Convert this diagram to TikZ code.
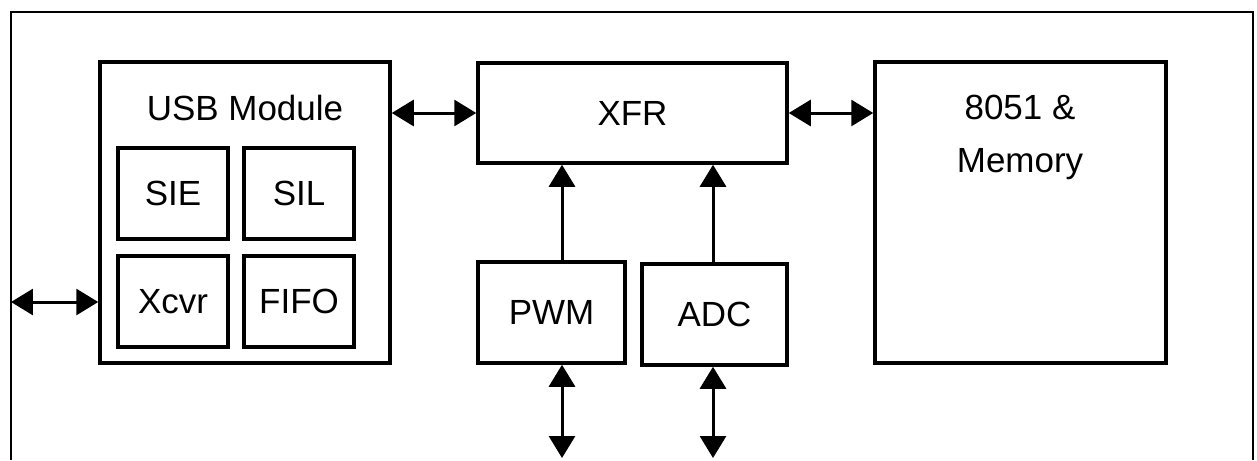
\documentclass[tikz,border=0pt]{standalone}
\usepackage{fontspec}
\setmainfont{Liberation Sans}
\usepackage{tikz}
\usetikzlibrary{arrows.meta}

\begin{document}
\begin{tikzpicture}[x=0.02cm, y=-0.02cm,
        every node/.style={font=\fontsize{19.9}{30}\selectfont},
        box/.style 2 args={draw, line width=0.07cm, inner sep=0pt,
            minimum width=#1*0.02cm, minimum height=#2*0.02cm},
        bus/.style={line width=0.06cm,
            {Triangle[length=0.44cm,width=0.52cm]}-{Triangle[length=0.44cm,width=0.52cm]}},
        feed/.style={line width=0.06cm, -{Triangle[length=0.44cm,width=0.52cm]}}]
        \useasboundingbox (0,0) rectangle (1257,460);
        \draw[line width=0.05cm] (11,460) -- (11,12) -- (1253,12) -- (1253,460);
        
        \node[box={290}{301}] (usb) at (245,212.5) {};
        \node (usblbl) at (245,108) {USB Module};
        \foreach \name/\txt/\x/\y in {sie/SIE/173/193.5, sil/SIL/299/193.5,
                xcvr/Xcvr/173/301.5, fifo/FIFO/299/301.5}
            \node[box={110}{91}] (\name) at (\x,\y) {\txt};
        
        \node[box={309}{100}] (xfr) at (632.5,113) {XFR};
        \node[box={147}{101}] (pwm) at (551.5,312.5) {PWM};
        \node[box={145}{101}] (adc) at (714.5,314.5) {ADC};
        
        \node[box={291}{301}] (cpu) at (1020.5,212.5) {};
        \node[align=center, inner sep=0pt, anchor=north] (cpulbl) at (1020,95) {8051 \&\\Memory};
        
        \coordinate (ext) at (11,302);
        \coordinate (pwmout) at (562,458);
        \coordinate (adcout) at (713,458);
        
        \draw[bus] (ext) -- (ext -| usb.west);
        \draw[bus] (xfr.west -| usb.east) -- (xfr.west);
        \draw[bus] (xfr.east) -- (xfr.east -| cpu.west);
        \draw[feed] (pwmout |- pwm.north) -- (pwmout |- xfr.south);
        \draw[feed] (adcout |- adc.north) -- (adcout |- xfr.south);
        \draw[bus] (pwmout |- pwm.south) -- (pwmout);
        \draw[bus] (adcout |- adc.south) -- (adcout);
    \end{tikzpicture}
\end{document}
